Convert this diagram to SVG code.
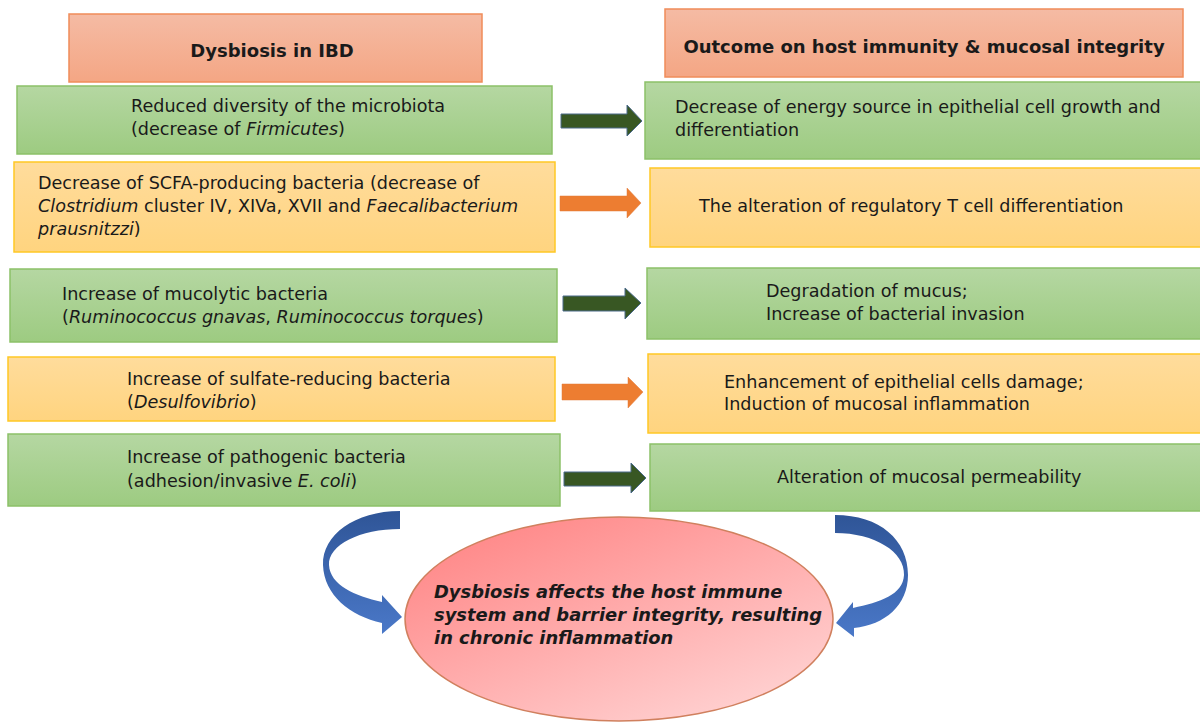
<svg xmlns="http://www.w3.org/2000/svg" width="1200" height="724" viewBox="0 0 1200 724">
<defs>
<linearGradient id="gGreen" x1="0" y1="0" x2="0" y2="1"><stop offset="0" stop-color="#b5d7a2"/><stop offset="1" stop-color="#9dcb81"/></linearGradient>
<linearGradient id="gYellow" x1="0" y1="0" x2="0" y2="1"><stop offset="0" stop-color="#ffdc9c"/><stop offset="1" stop-color="#ffd47f"/></linearGradient>
<linearGradient id="gHead" x1="0" y1="0" x2="0" y2="1"><stop offset="0" stop-color="#f5bba4"/><stop offset="1" stop-color="#f4a684"/></linearGradient>
<linearGradient id="gEll" x1="0.15" y1="0.1" x2="0.85" y2="0.95"><stop offset="0" stop-color="#ff8a8a"/><stop offset="1" stop-color="#ffd2d2"/></linearGradient>
<linearGradient id="gBlue" x1="0" y1="0" x2="0" y2="1"><stop offset="0" stop-color="#2f5597"/><stop offset="1" stop-color="#4a78c8"/></linearGradient>
<style>
.green{fill:url(#gGreen);stroke:#8cc168;stroke-width:1.5}
.yellow{fill:url(#gYellow);stroke:#ffc825;stroke-width:1.5}
.head{fill:url(#gHead);stroke:#f08c5a;stroke-width:1.5}
.t{font-family:"DejaVu Sans",Verdana,sans-serif;font-size:17.6px;fill:#1a1a1a}
.h{font-weight:bold;font-size:18px}
.e{font-weight:bold;font-style:italic;font-size:17.9px}
.i{font-style:italic}
.ga{fill:#385723;stroke:#4a6a8a;stroke-width:1}
.oa{fill:#ed7d31;stroke:#e07a3a;stroke-width:0.5}
.ba{fill:url(#gBlue)}
</style>
</defs>
<rect width="1200" height="724" fill="#ffffff"/>

<g id="header-left"><rect class="head" x="69" y="14" width="413" height="68"/><text class="t h" x="272" y="57" text-anchor="middle">Dysbiosis in IBD</text></g>
<g id="header-right"><rect class="head" x="665" y="9" width="518" height="68"/><text class="t h" x="924" y="53" text-anchor="middle">Outcome on host immunity &amp; mucosal integrity</text></g>

<g id="cause-1"><rect class="green" x="17" y="86" width="535" height="68"/><text class="t" x="131" y="112">Reduced diversity of the microbiota</text><text class="t" x="131" y="135">(decrease of <tspan class="i">Firmicutes</tspan>)</text></g>
<g id="cause-2"><rect class="yellow" x="14" y="162" width="541" height="90"/><text class="t" x="38" y="189">Decrease of SCFA-producing bacteria (decrease of</text><text class="t" x="38" y="212"><tspan class="i">Clostridium</tspan> cluster IV, XIVa, XVII and <tspan class="i">Faecalibacterium</tspan></text><text class="t" x="38" y="235"><tspan class="i">prausnitzzi</tspan>)</text></g>
<g id="cause-3"><rect class="green" x="10" y="269" width="547" height="73"/><text class="t" x="62" y="300">Increase of mucolytic bacteria</text><text class="t" x="62" y="323">(<tspan class="i">Ruminococcus gnavas</tspan>, <tspan class="i">Ruminococcus torques</tspan>)</text></g>
<g id="cause-4"><rect class="yellow" x="8" y="357" width="547" height="64"/><text class="t" x="127" y="385">Increase of sulfate-reducing bacteria</text><text class="t" x="127" y="408">(<tspan class="i">Desulfovibrio</tspan>)</text></g>
<g id="cause-5"><rect class="green" x="8" y="434" width="552" height="72"/><text class="t" x="127" y="463">Increase of pathogenic bacteria</text><text class="t" x="127" y="487">(adhesion/invasive <tspan class="i">E. coli</tspan>)</text></g>

<g id="outcome-1"><rect class="green" x="645" y="82" width="560" height="77"/><text class="t" x="675" y="113">Decrease of energy source in epithelial cell growth and</text><text class="t" x="675" y="136">differentiation</text></g>
<g id="outcome-2"><rect class="yellow" x="650" y="168" width="555" height="79"/><text class="t" x="699" y="212">The alteration of regulatory T cell differentiation</text></g>
<g id="outcome-3"><rect class="green" x="647" y="268" width="558" height="71"/><text class="t" x="766" y="297">Degradation of mucus;</text><text class="t" x="766" y="320">Increase of bacterial invasion</text></g>
<g id="outcome-4"><rect class="yellow" x="648" y="354" width="557" height="79"/><text class="t" x="724" y="388">Enhancement of epithelial cells damage;</text><text class="t" x="724" y="410">Induction of mucosal inflammation</text></g>
<g id="outcome-5"><rect class="green" x="650" y="444" width="555" height="67"/><text class="t" x="777" y="483">Alteration of mucosal permeability</text></g>

<g id="result"><ellipse cx="619" cy="619" rx="214" ry="102" fill="url(#gEll)" stroke="#d0805e" stroke-width="1.5"/><text class="t e" x="434" y="598">Dysbiosis affects the host immune</text><text class="t e" x="434" y="621">system and barrier integrity, resulting</text><text class="t e" x="434" y="644">in chronic inflammation</text></g>

<g id="connectors">
<path class="ga" d="M561,114 H627 V105 L642,121 L627,136 V128 H561 Z"/>
<path class="oa" d="M560,196 H627 V188 L641,203 L627,218 V211 H560 Z"/>
<path class="ga" d="M563,296 H625 V288 L641,303 L625,319 V311 H563 Z"/>
<path class="oa" d="M562,384 H628 V377 L643,392 L628,408 V400 H562 Z"/>
<path class="ga" d="M564,472 H631 V463 L646,478 L631,493 V486 H564 Z"/>
<path class="ba" d="M400,511 C355,511 322,535 323,565 C324,595 350,616 382,623 L382,634 L402,617 L382,595 L382,602 C355,596 330,585 329,565 C328,545 360,529 400,529 Z"/>
<path class="ba" d="M835,515 C880,515 908,540 908,575 C908,605 885,625 854,628 L854,637 L836,623 L853,602 L853,608 C880,602 903,595 904,575 C905,552 875,533 835,533 Z"/>
</g>
</svg>
